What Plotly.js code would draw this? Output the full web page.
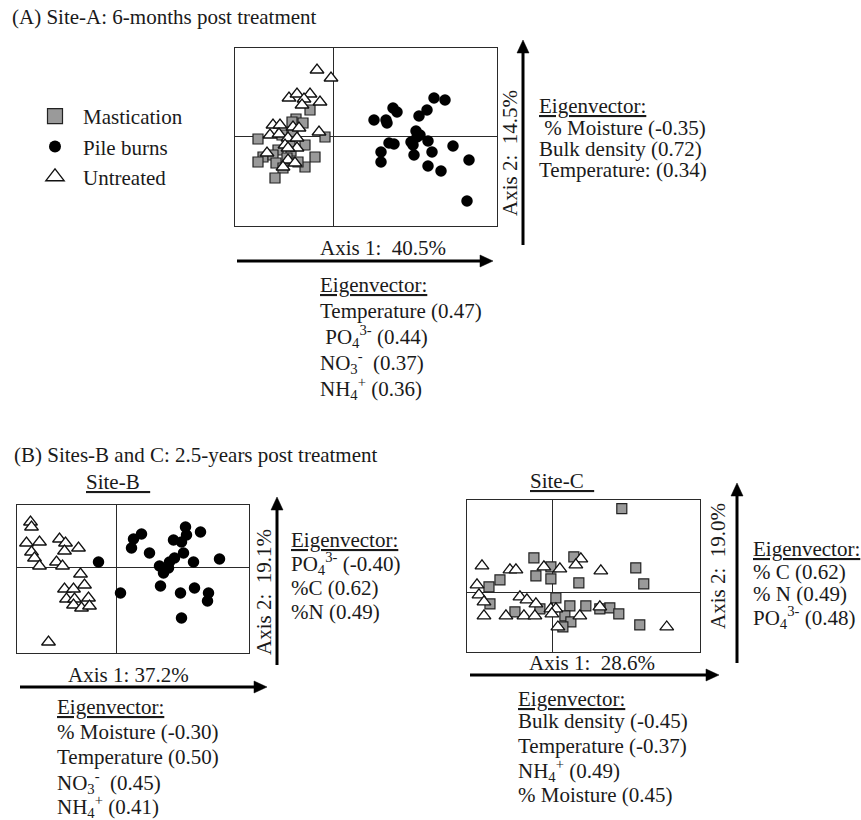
<!DOCTYPE html>
<html>
<head>
<meta charset="utf-8">
<script src="https://cdn.plot.ly/plotly-3.0.1.min.js"></script>
<style>html,body{margin:0;padding:0;background:#fff;}#chart{width:861px;height:820px;}</style>
</head>
<body>
<div id="chart"></div>
<script>
// ---------------- DATA (ordination scores; origin = axis crossing) ----------------
const groups = ['Mastication', 'Pile burns', 'Untreated'];

// Site-A, 6 months post treatment
const siteA_mast_x = [-23,-37,-30,-8,-75,-51,-40,-28,-55,-42,-70,-18,-60,-75,-57,-28,-50,-58,-43,-35,-46,-41];
const siteA_mast_y = [26,17,13,-1,-3,1,4,-9,-14,-15,-21,-21,-19,-26,-27,-31,-32,-42,-6,-26,-22,14];
const siteA_pile_x = [101,112,60,64,94,86,41,53,54,83,87,95,78,56,61,80,120,48,99,81,48,136,95,108,134,84];
const siteA_pile_y = [38,36,28,24,26,20,16,16,13,5,1,-5,-6,-7,-8,-9,-10,-16,-16,-19,-26,-24,-30,-35,-65,-1];
const siteA_untr_x = [-16,-2,-44,-36,-23,-13,-29,-31,-60,-53,-40,-34,-14,-63,-54,-45,-36,-48,-36,-66,-45,-38,-50,-45];
const siteA_untr_y = [66,58,38,42,42,34,37,31,11,11,9,8,4,1,2,-2,-2,-9,-12,-17,-24,-27,-31,-12];

// Site-B, 2.5 years post treatment
const siteB_pile_x = [69,84,25,17,57,65,15,33,67,58,77,103,-18,43,52,47,44,4,64,78,92,91,65,70,53];
const siteB_pile_y = [40,35,33,28,27,25,19,14,14,9,5,8,5,1,-1,-6,-19,-26,-26,-21,-26,-34,-51,32,5];
const siteB_untr_x = [-86,-85,-90,-77,-57,-51,-52,-38,-85,-82,-77,-60,-54,-36,-32,-52,-43,-50,-42,-28,-43,-35,-27,-68];
const siteB_untr_y = [45,40,24,25,28,24,16,19,15,9,1,5,1,-7,-18,-22,-22,-32,-32,-31,-38,-41,-39,-75];

// Site-C, 2.5 years post treatment
const siteC_mast_x = [69,-19,21,-2,-17,-2,26,83,91,-53,-64,-63,3,-38,-13,17,33,57,47,66,12,18,10,87];
const siteC_mast_y = [84,35,36,26,17,14,10,25,9,13,6,-11,-5,-19,-16,-13,-13,-15,-16,-21,-23,-29,-34,-32];
const siteC_untr_x = [-71,-43,-37,-9,7,28,23,48,-76,-74,-69,-33,-26,-17,-69,-47,-29,-18,-2,3,-1,27,47,5,114];
const siteC_untr_y = [27,23,23,26,24,34,28,22,8,-2,-9,-4,-7,-11,-23,-23,-23,-23,-16,-16,-21,-23,-14,-34,-34];

// Explained variance (%) per axis [Axis 1, Axis 2]
const siteA_variance = [40.5, 14.5];
const siteB_variance = [37.2, 19.1];
const siteC_variance = [28.6, 19.0];

// Eigenvector loadings
const siteA_ax1_vars = ['Temperature', '&nbsp;PO<sub>4</sub><sup>3-</sup>', 'NO<sub>3</sub><sup>-</sup>&nbsp;', 'NH<sub>4</sub><sup>+</sup>'];
const siteA_ax1_load = [0.47, 0.44, 0.37, 0.36];
const siteA_ax2_vars = ['&nbsp;% Moisture', 'Bulk density', 'Temperature:'];
const siteA_ax2_load = [-0.35, 0.72, 0.34];
const siteB_ax1_vars = ['% Moisture', 'Temperature', 'NO<sub>3</sub><sup>-</sup>&nbsp;', 'NH<sub>4</sub><sup>+</sup>'];
const siteB_ax1_load = [-0.30, 0.50, 0.45, 0.41];
const siteB_ax2_vars = ['PO<sub>4</sub><sup>3-</sup>', '%C', '%N'];
const siteB_ax2_load = [-0.40, 0.62, 0.49];
const siteC_ax1_vars = ['Bulk density', 'Temperature', 'NH<sub>4</sub><sup>+</sup>', '% Moisture'];
const siteC_ax1_load = [-0.45, -0.37, 0.49, 0.45];
const siteC_ax2_vars = ['% C', '% N', 'PO<sub>4</sub><sup>3-</sup>'];
const siteC_ax2_load = [0.62, 0.49, 0.48];

// ---------------- STYLE / LAYOUT ----------------
const W = 861, H = 820;
const FONT = 'Liberation Serif, Times New Roman, serif';
const FS = 21;
const TXT = '#1a1a1a';
const px = x => x / W;
const py = y => 1 - y / H;

const sym = {
  'Mastication': {symbol: 'square', color: '#9a9a9a', line: {color: '#222', width: 1.2}, size: 10},
  'Pile burns':  {symbol: 'circle', color: '#000', line: {color: '#000', width: 0}, size: 11.5},
  'Untreated':   {symbol: 'triangle-up', color: '#fff', line: {color: '#111', width: 1.3}, size: 12}
};
const legSize = {'Mastication': 15, 'Pile burns': 12, 'Untreated': 16};

function pts(xs, ys, g, ax) {
  const s = sym[g];
  return {type: 'scatter', mode: 'markers', x: xs, y: ys, name: g, legendgroup: g, showlegend: false,
    xaxis: 'x' + ax, yaxis: 'y' + ax, hoverinfo: 'x+y+name',
    marker: {symbol: s.symbol, size: s.size, color: s.color, line: s.line, opacity: 1}};
}

const traces = [
  pts(siteA_mast_x, siteA_mast_y, 'Mastication', ''),
  pts(siteA_untr_x, siteA_untr_y, 'Untreated', ''),
  pts(siteA_pile_x, siteA_pile_y, 'Pile burns', ''),
  pts(siteB_untr_x, siteB_untr_y, 'Untreated', '2'),
  pts(siteB_pile_x, siteB_pile_y, 'Pile burns', '2'),
  pts(siteC_mast_x, siteC_mast_y, 'Mastication', '3'),
  pts(siteC_untr_x, siteC_untr_y, 'Untreated', '3')
];
// legend entries
groups.forEach(g => {
  const s = sym[g];
  traces.push({type: 'scatter', mode: 'markers', x: [null], y: [null], name: g, legendgroup: g, showlegend: true,
    xaxis: 'x', yaxis: 'y', hoverinfo: 'skip',
    marker: {symbol: s.symbol, size: legSize[g], color: s.color, line: s.line}});
});

function axis(domain, range, anchor) {
  return {domain: domain, range: range, anchor: anchor, showgrid: false, showticklabels: false, ticks: '',
    zeroline: true, zerolinecolor: '#2a2a2a', zerolinewidth: 1.3, showline: true, mirror: true,
    linecolor: '#2a2a2a', linewidth: 1.3, fixedrange: true};
}

const annotations = [];
function txt(text, x, y, opts) {
  annotations.push(Object.assign({text: text, x: px(x), y: py(y), xref: 'paper', yref: 'paper',
    xanchor: 'left', yanchor: 'middle', showarrow: false, align: 'left',
    font: {family: FONT, size: FS, color: TXT}}, opts || {}));
}
const fmt = v => '(' + v.toFixed(2) + ')';
function block(vars, loads, left, ys) {
  txt('<u>Eigenvector:</u>', left, ys[0]);
  vars.forEach((v, i) => txt(v + ' ' + fmt(loads[i]), left, ys[i + 1]));
}
const ax1 = v => 'Axis 1:&nbsp;&nbsp;' + v.toFixed(1) + '%';
const ax2 = v => 'Axis 2:&nbsp;&nbsp;' + v.toFixed(1) + '%';

// titles
txt('(A) Site-A: 6-months post treatment', 10, 17);
txt('(B) Sites-B and C: 2.5-years post treatment', 12, 455);
txt('<u>Site-B&nbsp;&nbsp;</u>', 84, 482);
txt('<u>Site-C&nbsp;&nbsp;</u>', 528, 481);

// Site-A
txt(ax1(siteA_variance[0]), 318, 248);
txt(ax2(siteA_variance[1]), 510, 153, {textangle: -90, xanchor: 'center'});
block(siteA_ax2_vars, siteA_ax2_load, 537, [106, 128, 149, 170]);
block(siteA_ax1_vars, siteA_ax1_load, 318, [285, 311, 337, 363, 388]);

// Site-B
txt('Axis 1: ' + siteB_variance[0].toFixed(1) + '%', 66, 675);
txt(ax2(siteB_variance[1]), 264, 592, {textangle: -90, xanchor: 'center'});
block(siteB_ax2_vars, siteB_ax2_load, 289, [540, 563, 588, 612]);
block(siteB_ax1_vars, siteB_ax1_load, 55, [707, 732, 757, 782, 806]);

// Site-C
txt(ax1(siteC_variance[0]), 527, 663);
txt(ax2(siteC_variance[1]), 718, 566, {textangle: -90, xanchor: 'center'});
block(siteC_ax2_vars, siteC_ax2_load, 751, [549, 572, 594, 617]);
block(siteC_ax1_vars, siteC_ax1_load, 516, [699, 721, 746, 770, 795]);

// arrows (axis direction indicators)
const shapes = [];
function harrow(x0, x1, y) {
  shapes.push({type: 'line', xref: 'paper', yref: 'paper', x0: px(x0), x1: px(x1 - 10), y0: py(y), y1: py(y),
    line: {color: '#000', width: 3}});
  shapes.push({type: 'path', xref: 'paper', yref: 'paper', fillcolor: '#000', line: {color: '#000', width: 0.5},
    path: 'M' + px(x1 - 13) + ',' + py(y - 6) + ' L' + px(x1) + ',' + py(y) + ' L' + px(x1 - 13) + ',' + py(y + 6) + ' Z'});
}
function varrow(x, y0, y1) {
  shapes.push({type: 'line', xref: 'paper', yref: 'paper', x0: px(x), x1: px(x), y0: py(y0), y1: py(y1 + 10),
    line: {color: '#000', width: 3}});
  shapes.push({type: 'path', xref: 'paper', yref: 'paper', fillcolor: '#000', line: {color: '#000', width: 0.5},
    path: 'M' + px(x - 6) + ',' + py(y1 + 13) + ' L' + px(x) + ',' + py(y1) + ' L' + px(x + 6) + ',' + py(y1 + 13) + ' Z'});
}
harrow(237, 493, 261);
varrow(523, 245, 40);
harrow(20, 267, 687);
varrow(277, 665, 497);
harrow(470, 719, 675);
varrow(737, 663, 483);

const layout = {
  width: W, height: H, margin: {l: 0, r: 0, t: 0, b: 0},
  paper_bgcolor: '#fff', plot_bgcolor: '#fff',
  font: {family: FONT, size: FS, color: TXT},
  showlegend: true,
  legend: {x: px(27), y: py(96), xanchor: 'left', yanchor: 'top', bgcolor: 'rgba(0,0,0,0)',
    font: {family: FONT, size: FS, color: TXT}, itemwidth: 46, tracegroupgap: 3, traceorder: 'normal',
    itemclick: 'toggle'},
  xaxis: axis([px(235), px(497)], [-98, 164], 'y'),
  yaxis: axis([py(226), py(48)], [-90, 88], 'x'),
  xaxis2: axis([px(17), px(249)], [-99.5, 132.5], 'y2'),
  yaxis2: axis([py(653), py(505)], [-86, 62], 'x2'),
  xaxis3: axis([px(467), px(700)], [-86, 147.3], 'y3'),
  yaxis3: axis([py(652), py(500)], [-59, 92.7], 'x3'),
  annotations: annotations,
  shapes: shapes
};

Plotly.newPlot('chart', traces, layout, {displayModeBar: false, staticPlot: false, responsive: false});
</script>
</body>
</html>
